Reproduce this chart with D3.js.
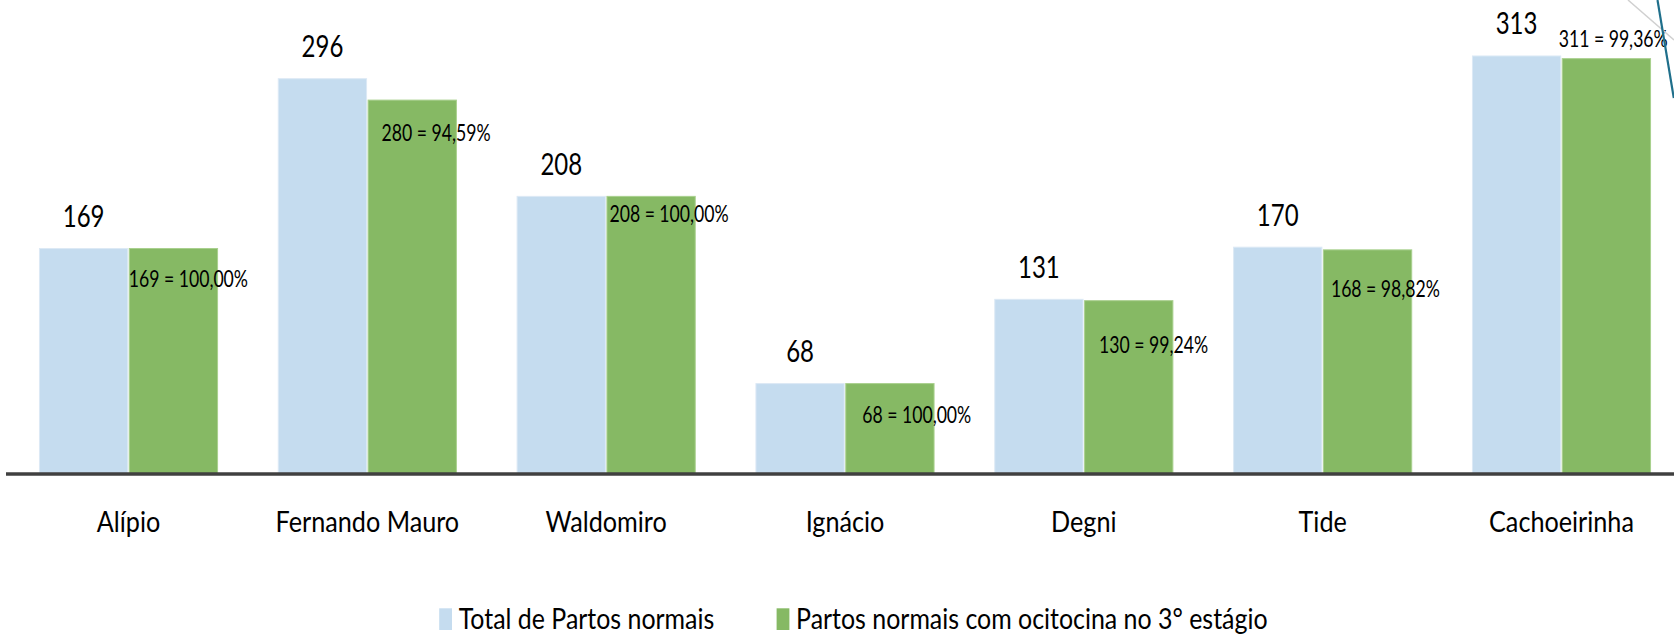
<!DOCTYPE html>
<html>
<head>
<meta charset="utf-8">
<script src="https://cdn.jsdelivr.net/npm/d3@7"></script>
<style>
  html, body { margin: 0; padding: 0; background: #ffffff; }
  svg { display: block; }
  text { font-family: Lato, "Open Sans", sans-serif; fill: #000; }
</style>
</head>
<body>
<svg id="chart" width="1674" height="638"></svg>
<script>
// ---- data ----
const categories = ["Alípio", "Fernando Mauro", "Waldomiro", "Ignácio", "Degni", "Tide", "Cachoeirinha"];
const seriesNames = ["Total de Partos normais", "Partos normais com ocitocina no 3° estágio"];
const totalPartos = [169, 296, 208, 68, 131, 170, 313];
const partosOcitocina = [169, 280, 208, 68, 130, 168, 311];
const percentLabels = ["100,00%", "94,59%", "100,00%", "100,00%", "99,24%", "98,82%", "99,36%"];

// label nudges (manual placement in the original), relative to the green bar's left/top
const greenLabelDx = [0, 14, 3, 17, 15, 8, -3];
const greenLabelDy = [39, 41, 26, 40, 53, 48, -11];

// ---- layout ----
const W = 1674, H = 638;
const baseY = 474;
const colors = ["#c5dcef", "#86b964"];
const strokes = ["#dce9f5", "#a9d08e"];
const SX_TOTAL = 0.8, SX_GREEN = 0.735, SX_CAT = 0.9, SX_LEG = 0.89;

const svg = d3.select("#chart");

const x0 = d3.scaleBand()
  .domain(categories)
  .range([9.1, 1680.9])
  .paddingInner(0.25)
  .paddingOuter(0.125);

const x1 = d3.scaleBand()
  .domain([0, 1])
  .range([0, x0.bandwidth()])
  .paddingInner(0.006);

const y = d3.scaleLinear().domain([0, 350]).range([baseY, 6]);

const rows = categories.map((c, i) => ({
  cat: c,
  vals: [totalPartos[i], partosOcitocina[i]],
  pct: percentLabels[i],
  dx: greenLabelDx[i],
  dy: greenLabelDy[i]
}));

// bars
const g = svg.append("g");
const groups = g.selectAll("g.cat").data(rows).join("g")
  .attr("class", "cat")
  .attr("transform", d => `translate(${x0(d.cat)},0)`);

groups.selectAll("rect").data(d => d.vals.map((v, s) => ({ v, s }))).join("rect")
  .attr("x", d => x1(d.s) + 0.5)
  .attr("y", d => y(d.v) + 0.5)
  .attr("width", x1.bandwidth() - 1)
  .attr("height", d => baseY - y(d.v))
  .attr("fill", d => colors[d.s])
  .attr("stroke", d => strokes[d.s])
  .attr("stroke-width", 1);

// total labels (above blue bars)
groups.append("text")
  .attr("text-anchor", "middle")
  .attr("font-size", 30)
  .attr("transform", d => `translate(${x1(0) + x1.bandwidth() / 2},${y(d.vals[0]) - 21}) scale(${SX_TOTAL},1)`)
  .text(d => d.vals[0]);

// green labels
groups.append("text")
  .attr("text-anchor", "start")
  .attr("font-size", 24)
  .attr("transform", d => `translate(${x1(1) + d.dx},${y(d.vals[1]) + d.dy}) scale(${SX_GREEN},1)`)
  .text(d => `${d.vals[1]} = ${d.pct}`);

// x axis
const axis = d3.axisBottom(x0).tickSize(0).tickSizeOuter(0);
const ax = svg.append("g").attr("transform", `translate(0,${baseY})`).call(axis);
ax.select(".domain")
  .attr("d", `M6,0H${W}`)
  .attr("stroke", "#404040")
  .attr("stroke-width", 3.4);
ax.selectAll(".tick text")
  .attr("y", 0).attr("dy", null)
  .attr("font-family", "Lato, 'Open Sans', sans-serif")
  .attr("font-size", 28)
  .attr("fill", "#000")
  .attr("transform", `translate(0,57.7) scale(${SX_CAT},1)`);

// legend
const legendX = [439.2, 776.6];
const lg = svg.append("g").selectAll("g").data(seriesNames).join("g")
  .attr("transform", (d, i) => `translate(${legendX[i]},0)`);
lg.append("rect")
  .attr("x", 0).attr("y", 608.3)
  .attr("width", 12.8).attr("height", 21.7)
  .attr("fill", (d, i) => colors[i]);
lg.append("text")
  .attr("font-size", 28)
  .attr("transform", `translate(19.5,629.3) scale(${SX_LEG},1)`)
  .text(d => d);

// decorative slide strokes at top right corner
svg.append("line").attr("x1", 1628).attr("y1", 0).attr("x2", 1674).attr("y2", 40)
  .attr("stroke", "#d0d0d0").attr("stroke-width", 1.5);
svg.append("line").attr("x1", 1657.5).attr("y1", 0).attr("x2", 1673.8).attr("y2", 98)
  .attr("stroke", "#1f6f8b").attr("stroke-width", 2.2);
</script>
</body>
</html>
